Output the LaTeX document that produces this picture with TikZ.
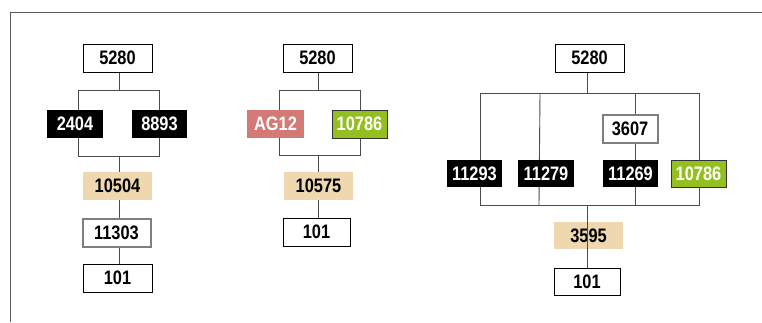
\documentclass[tikz,border=0pt]{standalone}
\usepackage{fontspec}
\setmainfont{Liberation Sans}[FakeStretch=0.84]
\usetikzlibrary{backgrounds}
\definecolor{tanbox}{HTML}{EFD7B0}
\definecolor{salmon}{HTML}{D47A76}
\definecolor{limeg}{HTML}{93C01F}
\definecolor{grayb}{HTML}{7F7F7F}
\definecolor{linec}{HTML}{4A4A4A}
\tikzset{
  x=1pt,y=-1pt,
  box/.style={minimum height=28pt,inner sep=0pt,font=\fontsize{19.5}{19.5}\selectfont\bfseries,anchor=center},
  whitebox/.style={box,draw=black,line width=0.9pt,fill=white},
  blackbox/.style={box,fill=black,text=white},
  tanb/.style={box,fill=tanbox},
  grayframe/.style={box,draw=grayb,line width=2pt,fill=white},
  salmonb/.style={box,fill=salmon,text=white},
  greenb/.style={box,fill=limeg,draw=black!80,line width=0.9pt,text=white},
  conn/.style={draw=linec,line width=0.9pt},
}
\begin{document}
\begin{tikzpicture}
\useasboundingbox (0,0) rectangle (762,322);
\draw[draw=black!65,line width=1pt] (762,12) coordinate (fTR) -- (10,12) coordinate (fTL) -- (10,322) coordinate (fBL);

% Panel 1
\node[whitebox,minimum width=69pt] (a5280) at (117.5,58) {5280};
\node[blackbox,minimum width=56pt] (a2404) at (75,124) {2404};
\node[blackbox,minimum width=55pt] (a8893) at (159.5,124) {8893};
\node[tanb,minimum width=69pt] (a10504) at (117.5,186) {10504};
\node[grayframe,minimum width=68pt,minimum height=28pt] (a11303) at (116.5,232.5) {11303};
\node[whitebox,minimum width=69pt] (a101) at (117.5,278) {101};
\coordinate (aL1) at (78,90); \coordinate (aR1) at (159,90);
\coordinate (aL2) at (78,156); \coordinate (aR2) at (159,156);
\coordinate (aC1) at (119,90); \coordinate (aC2) at (119,156);
\begin{scope}[on background layer]
\draw[conn] (aL2) -- (aL1) -- (aR1) -- (aR2) -- cycle;
\draw[conn] (aC1) -- (aC1 |- a5280.south);
\draw[conn] (aC2) -- (aC2 |- a10504.north);
\draw[conn] (aC2 |- a10504.south) -- (aC2 |- a11303.north);
\draw[conn] (aC2 |- a11303.south) -- (aC2 |- a101.north);
\end{scope}

% Panel 2
\node[whitebox,minimum width=69pt] (b5280) at (317.5,58) {5280};
\node[salmonb,minimum width=57pt] (bAG12) at (275.5,123.5) {AG12};
\node[greenb,minimum width=55pt] (b10786) at (359.5,124) {10786};
\node[tanb,minimum width=69pt] (b10575) at (318.5,186) {10575};
\node[whitebox,minimum width=67pt] (b101) at (316.5,232) {101};
\coordinate (bL1) at (279,90); \coordinate (bR1) at (360,90);
\coordinate (bL2) at (279,155); \coordinate (bR2) at (360,155);
\coordinate (bC1) at (318,90); \coordinate (bC2) at (318,155);
\begin{scope}[on background layer]
\draw[conn] (bL2) -- (bL1) -- (bR1) -- (bR2) -- cycle;
\draw[conn] (bC1) -- (bC1 |- b5280.south);
\draw[conn] (bC2) -- (bC2 |- b10575.north);
\draw[conn] (bC2 |- b10575.south) -- (bC2 |- b101.north);
\end{scope}

% Panel 3
\node[whitebox,minimum width=69pt] (c5280) at (589.5,58) {5280};
\node[grayframe,minimum width=55pt,minimum height=28pt] (c3607) at (630,128.5) {3607};
\node[blackbox,minimum width=55pt,minimum height=27pt] (c11293) at (474.5,173.5) {11293};
\node[blackbox,minimum width=56pt,minimum height=27pt] (c11279) at (546,173.5) {11279};
\node[blackbox,minimum width=55pt,minimum height=27pt] (c11269) at (630.5,173.5) {11269};
\node[greenb,minimum width=55pt,minimum height=27pt] (c10786) at (698.5,173.5) {10786};
\node[tanb,minimum width=69pt,minimum height=27pt] (c3595) at (588.5,235.5) {3595};
\node[whitebox,minimum width=66pt,minimum height=27pt] (c101) at (587,281.5) {101};
\coordinate (cT1) at (480,93); \coordinate (cT2) at (540,93);
\coordinate (cT3) at (635,93); \coordinate (cT4) at (699,93);
\coordinate (cB1) at (480,205); \coordinate (cB2) at (539,205);
\coordinate (cB3) at (635,205); \coordinate (cB4) at (699,205);
\coordinate (cC1) at (587,93); \coordinate (cC2) at (587,205);
\begin{scope}[on background layer]
\draw[conn] (cB1) -- (cT1) -- (cT4) -- (cB4) -- cycle;
\draw[conn] (cT2) -- (cB2);
\draw[conn] (cT3) -- (cT3 |- c3607.north);
\draw[conn] (cT3 |- c3607.south) -- (cB3);
\draw[conn] (cC1) -- (cC1 |- c5280.south);
\end{scope}
\draw[conn] (cC2) -- (cC2 |- c101.north);
\end{tikzpicture}
\end{document}
